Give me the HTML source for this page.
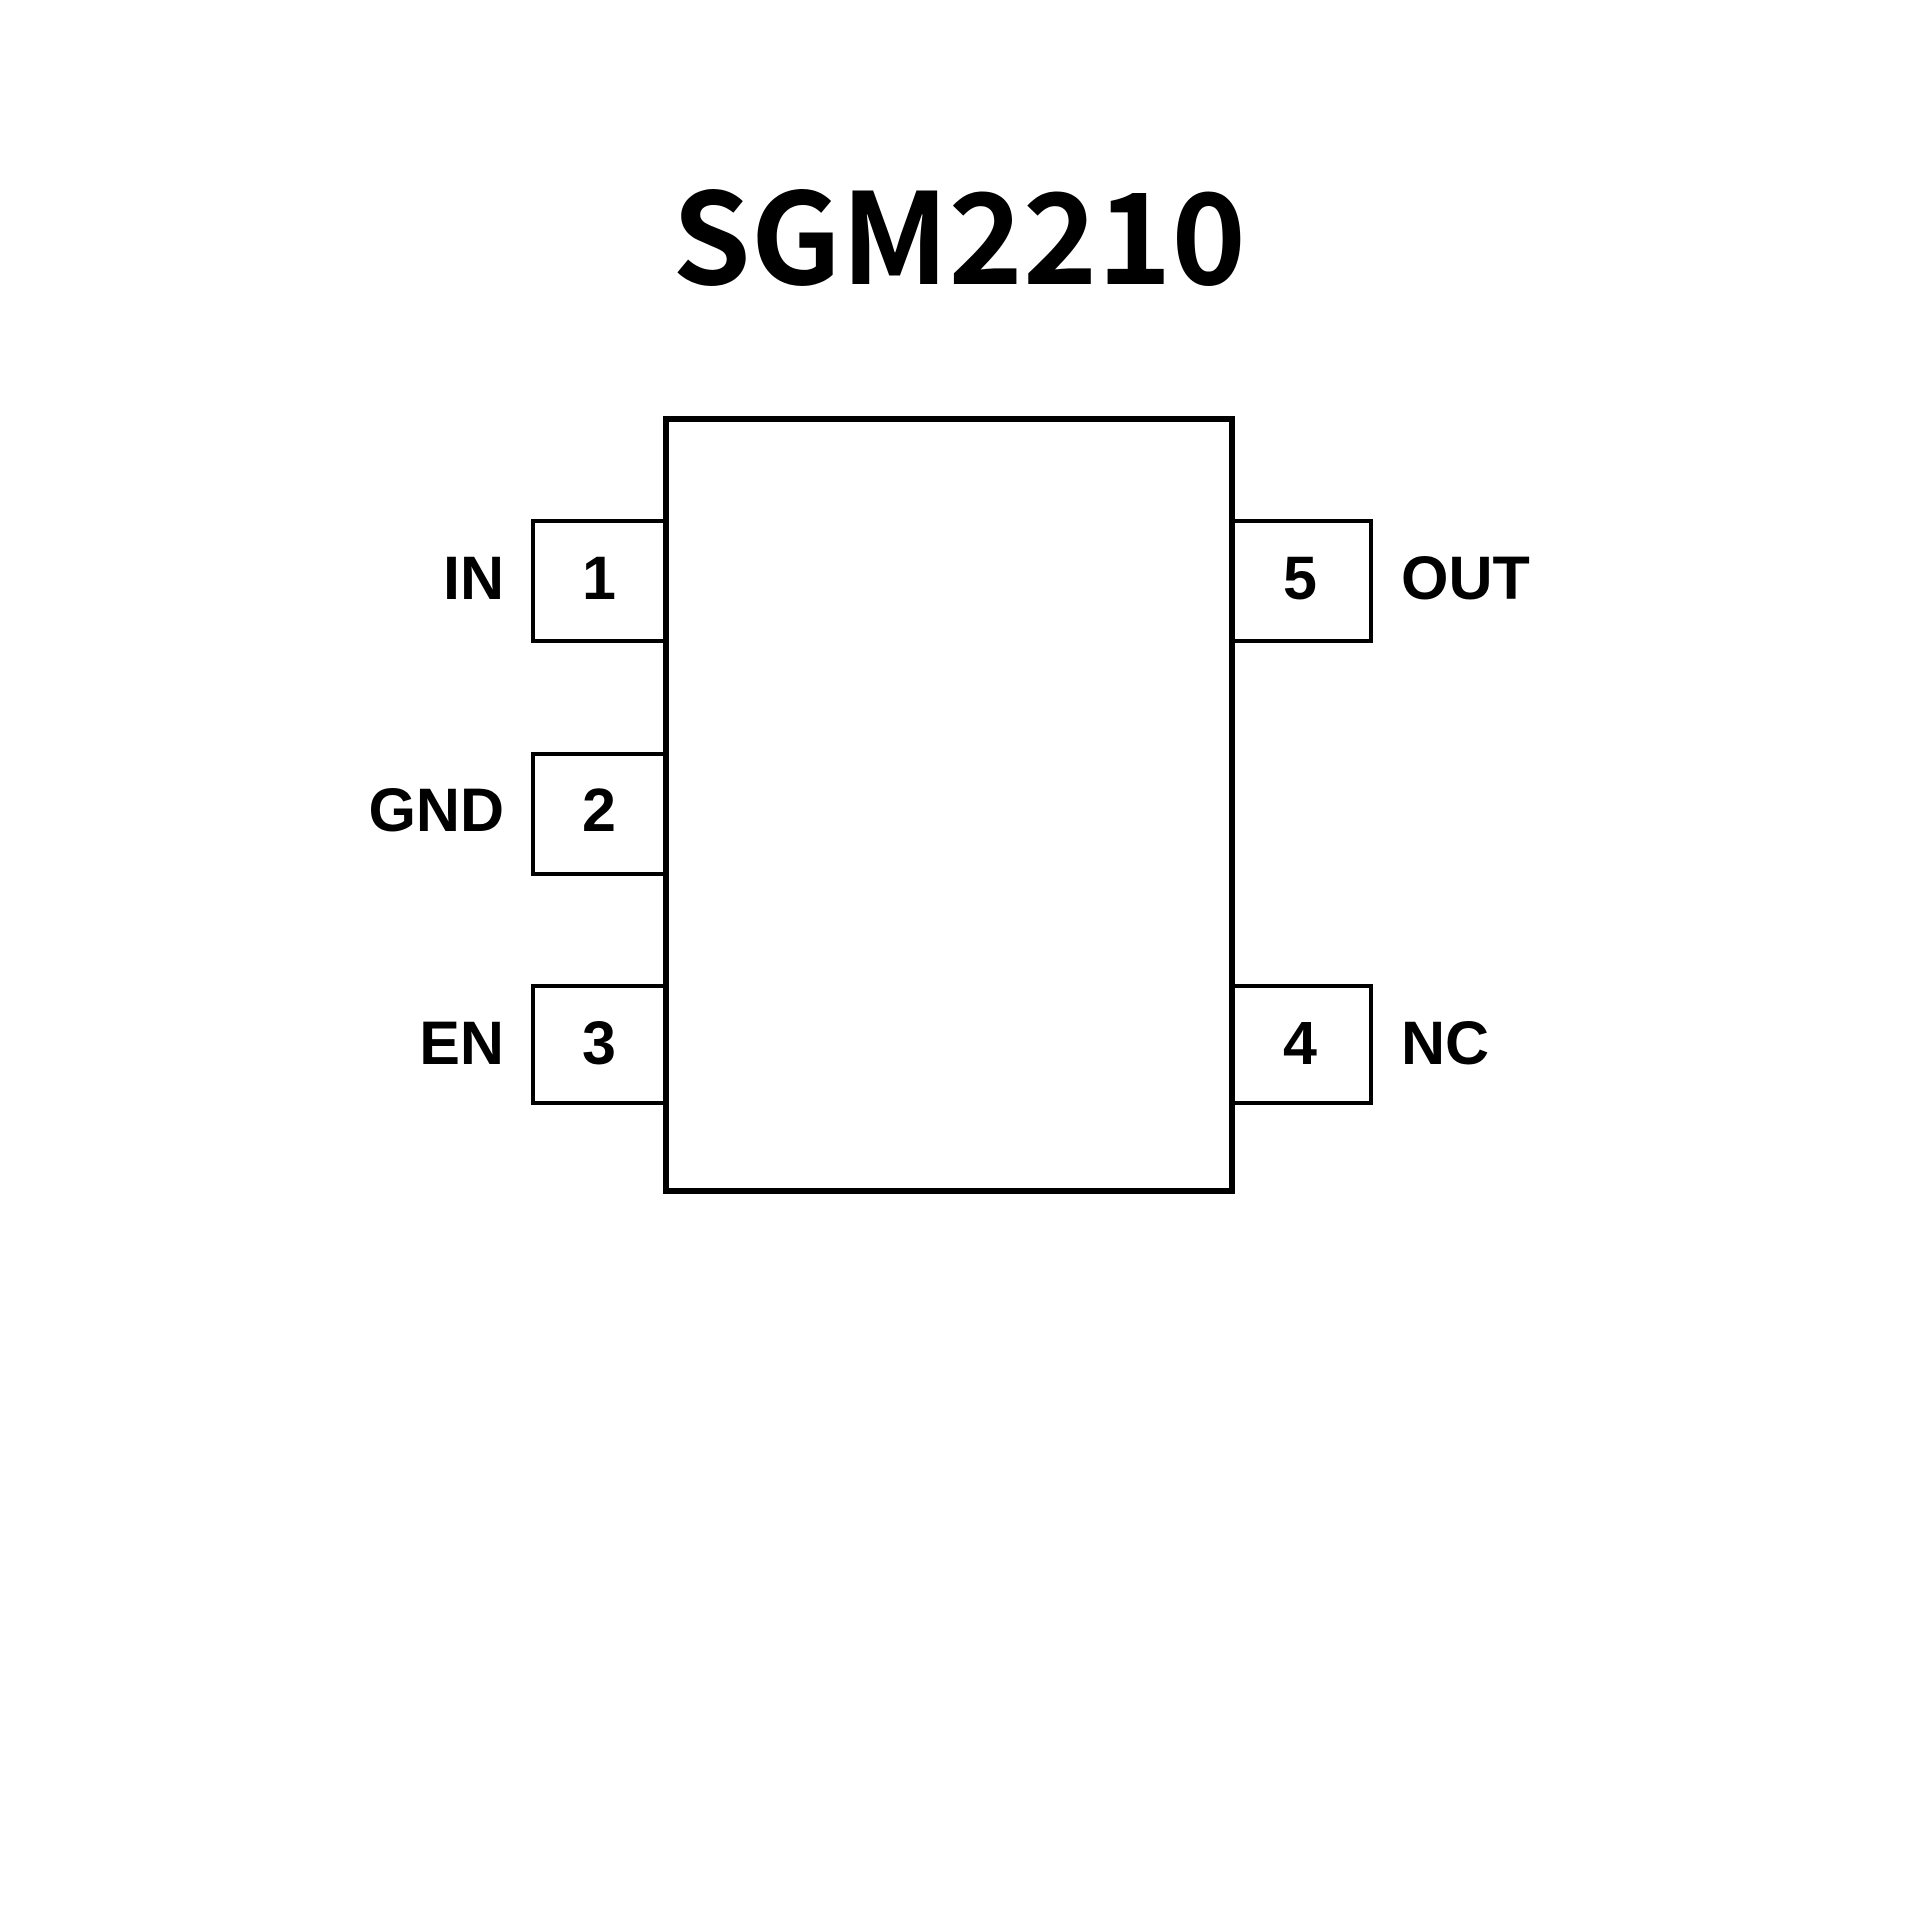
<!DOCTYPE html>
<html><head><style>
html,body{margin:0;padding:0;background:#fff;}
svg{display:block;}
</style></head><body>
<svg width="1920" height="1920" viewBox="0 0 1920 1920" xmlns="http://www.w3.org/2000/svg">
<rect width="1920" height="1920" fill="#fff"/>
<text x="959" y="284" text-anchor="middle" font-family="'Noto Sans CJK SC', 'DejaVu Sans', sans-serif" font-weight="bold" font-size="126" fill="#000">SGM2210</text>
<g fill="none" stroke="#000">
<rect x="666" y="419" width="566" height="772" stroke-width="6"/>
<g stroke-width="4">
<polyline points="663,521 533,521 533,641 663,641"/>
<polyline points="663,754 533,754 533,874 663,874"/>
<polyline points="663,986 533,986 533,1103 663,1103"/>
<polyline points="1235,521 1371,521 1371,641 1235,641"/>
<polyline points="1235,986 1371,986 1371,1103 1235,1103"/>
</g>
</g>
<g font-family="'Liberation Sans', Arial, sans-serif" font-weight="bold" font-size="61" fill="#000">
<text x="504" y="599" text-anchor="end">IN</text>
<text x="504" y="831" text-anchor="end">GND</text>
<text x="504" y="1064" text-anchor="end">EN</text>
<text x="599" y="599" text-anchor="middle">1</text>
<text x="599" y="831" text-anchor="middle">2</text>
<text x="599" y="1064" text-anchor="middle">3</text>
<text x="1300" y="599" text-anchor="middle">5</text>
<text x="1300" y="1064" text-anchor="middle">4</text>
<text x="1401" y="599">OUT</text>
<text x="1401" y="1064">NC</text>
</g>
</svg>
</body></html>
